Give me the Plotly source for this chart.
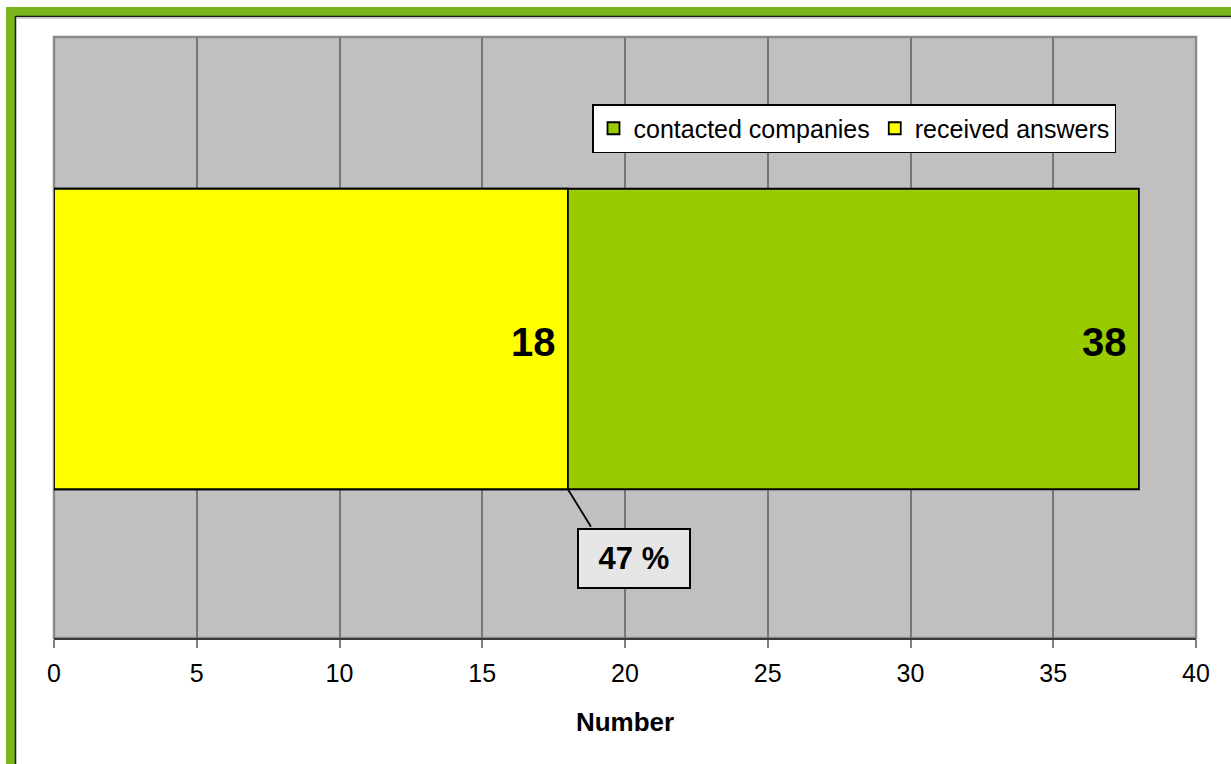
import plotly.graph_objects as go

# ---- data ----
series_names = ["contacted companies", "received answers"]
series_values = [38, 18]
series_colors = ["#99CC00", "#FFFF00"]
x_ticks = [0, 5, 10, 15, 20, 25, 30, 35, 40]
x_title = "Number"

W, H = 1231, 764
L, R, T, B = 54, 35, 37, 126
PW, PH = W - L - R, H - T - B

def px_x(p):
    return (p - L) / PW

def px_y(q):
    return (H - B - q) / PH

fig = go.Figure()
for name, val, col in zip(series_names, series_values, series_colors):
    fig.add_trace(go.Bar(
        x=[val], y=[0], orientation="h", name=name, width=0.5,
        marker=dict(color=col, line=dict(color="black", width=1.8)),
        hoverinfo="x+name",
    ))

annotations = []
for val in series_values:
    annotations.append(dict(
        x=val, y=0, xref="x", yref="y", text="<b>%d</b>" % val,
        showarrow=False, xanchor="right", xshift=-10, yshift=-3,
        font=dict(family="Liberation Sans, Arial", size=40, color="black"),
    ))

pct = round(series_values[1] / series_values[0] * 100)
annotations.append(dict(
    x=series_values[1], y=-0.25, xref="x", yref="y", text="",
    showarrow=True, arrowhead=0, arrowwidth=1.8, arrowcolor="black",
    ax=24, ay=39, standoff=0,
))
annotations.append(dict(
    x=series_values[1], y=-0.25, xref="x", yref="y",
    text="<b>&nbsp;%d %%&nbsp;</b>" % pct, showarrow=False,
    xshift=66, yshift=-69,
    font=dict(family="Liberation Sans, Arial", size=31, color="black"),
    bgcolor="#E6E6E6", bordercolor="black", borderwidth=2, borderpad=11,
))

shapes = [
    # plot area border
    dict(type="rect", xref="paper", yref="paper", x0=0, x1=1, y0=0, y1=1,
         line=dict(color="#8A8A8A", width=2.5), layer="below"),
    # green outer frame (left and top)
    dict(type="rect", xref="paper", yref="paper",
         x0=px_x(6), x1=px_x(15), y0=px_y(H + 5), y1=px_y(7),
         fillcolor="#7AB51D", line=dict(width=0)),
    dict(type="rect", xref="paper", yref="paper",
         x0=px_x(6), x1=px_x(W + 5), y0=px_y(16), y1=px_y(7),
         fillcolor="#7AB51D", line=dict(width=0)),
    # dark inner edge
    dict(type="line", xref="paper", yref="paper",
         x0=px_x(15.5), x1=px_x(15.5), y0=px_y(H + 5), y1=px_y(16),
         line=dict(color="#1A1A1A", width=1.5)),
    dict(type="line", xref="paper", yref="paper",
         x0=px_x(15.5), x1=px_x(W + 5), y0=px_y(16.5), y1=px_y(16.5),
         line=dict(color="#1A1A1A", width=1.5)),
    dict(type="line", xref="paper", yref="paper",
         x0=px_x(17), x1=px_x(W + 5), y0=px_y(18.5), y1=px_y(18.5),
         line=dict(color="#D0D0D0", width=1)),
]

fig.update_layout(
    width=W, height=H,
    margin=dict(l=L, r=R, t=T, b=B, pad=0),
    paper_bgcolor="white", plot_bgcolor="#C0C0C0",
    barmode="overlay",
    font=dict(family="Liberation Sans, Arial", size=24, color="black"),
    showlegend=True,
    legend=dict(
        orientation="h", x=px_x(592), y=px_y(104), xanchor="left", yanchor="top",
        bgcolor="white", bordercolor="black", borderwidth=1.5,
        font=dict(size=25), itemwidth=30, tracegroupgap=0,
    ),
    xaxis=dict(
        range=[0, 40], tickvals=x_ticks, ticktext=[str(t) for t in x_ticks],
        showgrid=True, gridcolor="#767676", gridwidth=2,
        zeroline=False, showline=True, linecolor="#3A3A3A", linewidth=2,
        ticks="outside", ticklen=8, tickcolor="#808080", tickwidth=2,
        ticklabelstandoff=4,
        tickfont=dict(size=25),
        title=dict(text="<b>%s</b>" % x_title, font=dict(size=26), standoff=27),
    ),
    yaxis=dict(
        range=[-0.4975, 0.5025], showticklabels=False, showgrid=False,
        zeroline=False, showline=False, ticks="",
    ),
    annotations=annotations,
    shapes=shapes,
)

fig.write_html("out.html")
